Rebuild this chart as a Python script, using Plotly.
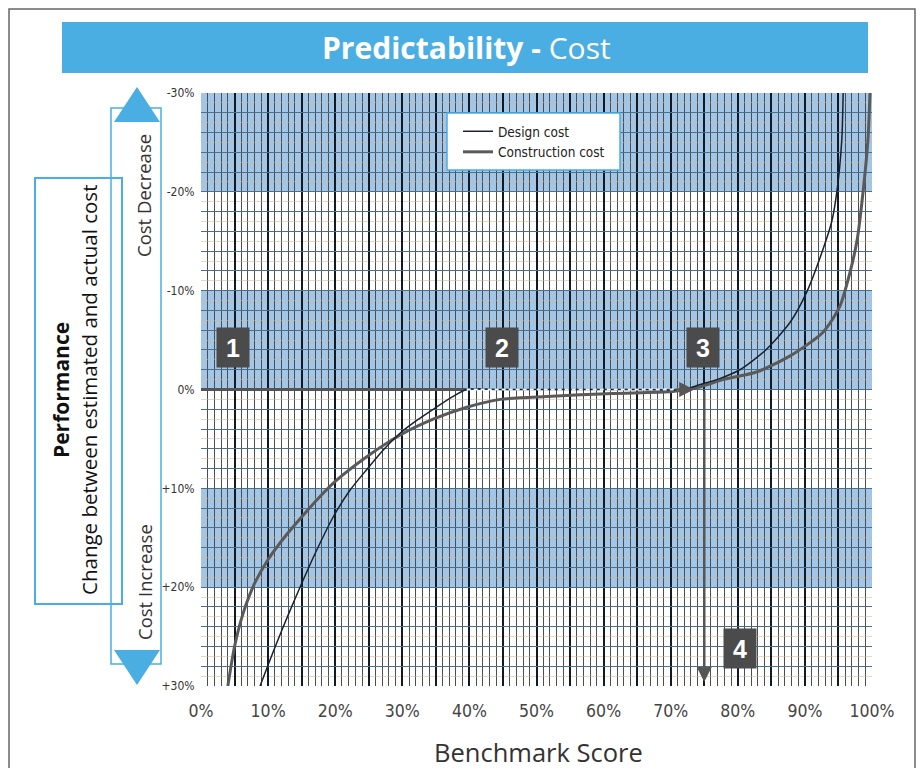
import plotly.graph_objects as go

# ---------------- data ----------------
x_tick_vals = [0, 10, 20, 30, 40, 50, 60, 70, 80, 90, 100]
x_tick_text = ["0%", "10%", "20%", "30%", "40%", "50%", "60%", "70%", "80%", "90%", "100%"]
y_tick_vals = [-30, -20, -10, 0, 10, 20, 30]
y_tick_text = ["-30%", "-20%", "-10%", "0%", "+10%", "+20%", "+30%"]

# benchmark score (%) vs change between estimated and actual cost (%; + = increase)
design_x = [8.8, 10.5, 12.2, 14.0, 16.8, 19.7, 22.2, 24.7, 27.2, 29.7, 32.2, 34.6,
            37.1, 39.6, 45, 55, 65, 72, 74.4, 77.3, 80.3, 84.0, 87.8, 90.3, 92.7,
            94.0, 94.8, 95.5, 95.7]
design_y = [30.0, 27.0, 24.1, 21.2, 16.9, 12.9, 10.2, 8.1, 6.1, 4.4, 3.1, 2.0,
            0.9, 0.0, 0.0, 0.0, 0.0, 0.0, -0.5, -1.1, -2.0, -3.9, -6.8, -9.9, -14.2,
            -17.0, -20.2, -25.3, -30.0]

construction_x = [4.0, 5.0, 6.3, 8.0, 10.0, 12.5, 15.0, 17.5, 20.0, 24.7, 29.7,
                  34.6, 39.6, 44.6, 51.6, 61.4, 70.3, 74.0, 77.8, 82.9, 87.8,
                  92.7, 95.2, 96.7, 97.8, 98.7, 99.4, 99.7]
construction_y = [30.0, 26.0, 22.6, 19.6, 17.2, 14.9, 12.9, 11.0, 9.3, 6.8, 4.6,
                  3.0, 1.8, 1.0, 0.7, 0.4, 0.2, -0.2, -1.0, -1.8, -3.4,
                  -5.8, -8.4, -11.8, -15.2, -20.2, -25.3, -30.0]

blue_bands = [(-30, -20), (-10, 0), (10, 20)]

# step guide (1 -> 2 -> 3 -> 4)
guide_solid_x = [0, 39.6]
guide_dash_x = [39.6, 72.5]
guide_level = 0
step_arrow_x = 75.0
step_arrow_end_y = 29.6
step_labels = ["1", "2", "3", "4"]
step_label_x = [4.8, 44.9, 74.8, 80.3]
step_label_y = [-4.2, -4.2, -4.2, 26.2]

# ---------------- layout helpers (screen pixel targets) ----------------
OFF = 8                      # page body margin
WF, HF = 916, 760            # figure size so the page does not scroll
L, R, T, B = 201, 872, 93, 686   # plot area in screen pixels


def px(xp):
    return (xp - L) / (R - L)


def py(yp):
    return (B - yp) / (B - T)


BLUE = "#4aaee3"
NARROW = "Liberation Sans Narrow, DejaVu Sans Condensed, Roboto, sans-serif"
HUM = "Open Sans, Noto Sans, sans-serif"

fig = go.Figure()

fig.add_trace(go.Scatter(
    x=guide_solid_x, y=[guide_level] * 2, mode="lines",
    line=dict(color="#555555", width=3), showlegend=False, hoverinfo="skip"))

fig.add_trace(go.Scatter(
    x=construction_x, y=construction_y, mode="lines", name="Construction cost",
    legendrank=2,
    line=dict(color="#5a5a5a", width=3, shape="spline", smoothing=0.7)))

fig.add_trace(go.Scatter(
    x=design_x, y=design_y, mode="lines", name="Design cost", legendrank=1,
    line=dict(color="#18222e", width=1.5, shape="spline", smoothing=0.7)))

fig.add_trace(go.Scatter(
    x=guide_dash_x, y=[guide_level] * 2, mode="lines",
    line=dict(color="#f2f2f2", width=2, dash="4px,3px"),
    showlegend=False, hoverinfo="skip"))

shapes = []
for y0, y1 in blue_bands:
    shapes.append(dict(type="rect", xref="x", yref="y", x0=0, x1=100, y0=y0, y1=y1,
                       fillcolor="#a3c6e7", line=dict(width=0), layer="below"))

# outer frame
shapes.append(dict(type="rect", xref="paper", yref="paper", x0=px(9), x1=px(915),
                   y0=py(9), y1=py(800), line=dict(color="#666666", width=1.5)))
# title bar
shapes.append(dict(type="rect", xref="paper", yref="paper", x0=px(62), x1=px(868),
                   y0=py(22), y1=py(73), fillcolor=BLUE, line=dict(width=0)))
# performance box
shapes.append(dict(type="rect", xref="paper", yref="paper", x0=px(35), x1=px(122),
                   y0=py(178), y1=py(604), fillcolor="white",
                   line=dict(color=BLUE, width=2)))
# tall direction box
shapes.append(dict(type="rect", xref="paper", yref="paper", x0=px(111), x1=px(161),
                   y0=py(108), y1=py(664), line=dict(color=BLUE, width=1.5)))
# triangles
shapes.append(dict(type="path", xref="paper", yref="paper",
                   path=f"M {px(114)} {py(122)} L {px(160)} {py(122)} L {px(137)} {py(87)} Z",
                   fillcolor=BLUE, line=dict(width=0)))
shapes.append(dict(type="path", xref="paper", yref="paper",
                   path=f"M {px(114)} {py(650)} L {px(160)} {py(650)} L {px(137)} {py(685)} Z",
                   fillcolor=BLUE, line=dict(width=0)))
# legend box
shapes.append(dict(type="rect", xref="paper", yref="paper", x0=px(447), x1=px(620),
                   y0=py(113), y1=py(170), fillcolor="white",
                   line=dict(color=BLUE, width=1.5), layer="above"))


def txt(x, y, text, size, color, angle=0, family=HUM):
    return dict(xref="paper", yref="paper", x=px(x), y=py(y), text=text,
                xanchor="center", yanchor="middle", textangle=angle,
                showarrow=False, font=dict(family=family, size=size, color=color))


annotations = [
    txt(466, 47, "<b>Predictability -</b> Cost", 30, "white"),
    txt(61, 390, "<b>Performance</b>", 21, "#111111", -90),
    txt(89, 390, "Change between estimated and actual cost", 20.5, "#111111", -90),
    txt(144, 196, "Cost Decrease", 18.5, "#333333", -90),
    txt(144, 582, "Cost Increase", 18.5, "#333333", -90),
    txt(538, 752, "Benchmark Score", 25.5, "#333333"),
    # arrows
    dict(x=guide_dash_x[1] + 1.0, y=guide_level, ax=guide_dash_x[1] - 2.0, ay=guide_level,
         xref="x", yref="y", axref="x", ayref="y", text="", showarrow=True,
         arrowhead=2, arrowsize=1.2, arrowwidth=2.5, arrowcolor="#555555"),
    dict(x=step_arrow_x, y=step_arrow_end_y, ax=step_arrow_x, ay=guide_level,
         xref="x", yref="y", axref="x", ayref="y", text="", showarrow=True,
         arrowhead=2, arrowsize=1.2, arrowwidth=2.5, arrowcolor="#555555"),
]
for lab, lx, ly in zip(step_labels, step_label_x, step_label_y):
    annotations.append(dict(x=lx, y=ly, xref="x", yref="y", text=f"<b>{lab}</b>",
                            showarrow=False, width=30, height=37, bgcolor="#4b4b4b",
                            xanchor="center", yanchor="middle",
                            font=dict(family="Liberation Sans, Arial, sans-serif",
                                      size=25, color="white")))

x_all_vals = list(range(0, 101, 5))
x_all_text = [x_tick_text[x_tick_vals.index(v)] if v in x_tick_vals else "" for v in x_all_vals]
y_all_vals = list(range(-30, 31, 2))
y_all_text = [y_tick_text[y_tick_vals.index(v)] if v in y_tick_vals else "" for v in y_all_vals]

fig.update_layout(
    width=WF, height=HF,
    margin=dict(l=L - OFF, r=WF - (R - OFF), t=T - OFF, b=HF - (B - OFF)),
    paper_bgcolor="white", plot_bgcolor="white",
    shapes=shapes, annotations=annotations,
    showlegend=True,
    legend=dict(x=px(458), y=py(116), xanchor="left", yanchor="top",
                bgcolor="rgba(0,0,0,0)", borderwidth=0, traceorder="normal",
                font=dict(family=NARROW, size=13.5, color="#222222"), tracegroupgap=4),
    xaxis=dict(range=[0, 100], tickvals=x_all_vals, ticktext=x_all_text,
               showgrid=True, gridcolor="#111a24", gridwidth=1.6,
               minor=dict(dtick=1, showgrid=True, gridcolor="#4a4d52", gridwidth=1),
               ticks="outside", ticklen=9, tickcolor="rgba(0,0,0,0)",
               tickfont=dict(family=NARROW, size=17.5, color="#444444"),
               zeroline=False, showline=False, fixedrange=True),
    yaxis=dict(range=[30, -30], tickvals=y_all_vals, ticktext=y_all_text,
               showgrid=True, gridcolor="#4a6f86", gridwidth=1,
               minor=dict(dtick=1, showgrid=True, gridcolor="rgba(210,185,145,0.55)",
                          gridwidth=1),
               ticks="outside", ticklen=3, tickcolor="rgba(0,0,0,0)",
               tickfont=dict(family=NARROW, size=12, color="#333333"),
               zeroline=False, showline=False, fixedrange=True),
)

fig.write_html("out.html")
